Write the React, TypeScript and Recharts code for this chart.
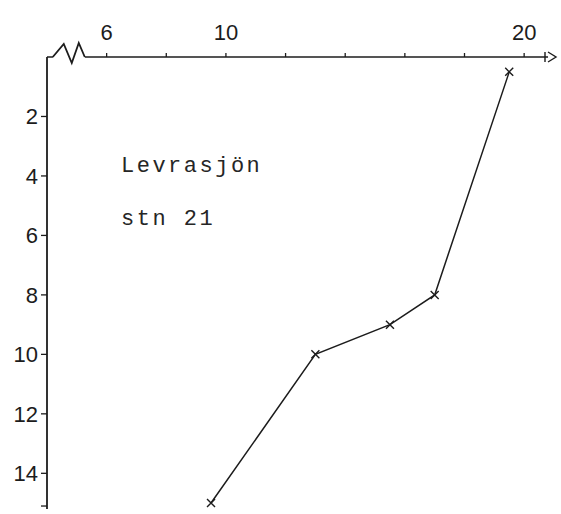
import { LineChart, Line, XAxis, YAxis, ReferenceLine, ReferenceDot } from 'recharts';

// temperature (°C) against depth (m)
const depths = [0.5, 8, 9, 10, 15];
const temps = [19.5, 17.0, 15.5, 13.0, 9.5];

const xTicks = [6, 8, 10, 12, 14, 16, 18, 20];
const xTickLabels = ['6', '', '10', '', '', '', '', '20'];
const yTicks = [2, 4, 6, 8, 10, 12, 14, 15.1];
const yTickLabels = ['2', '4', '6', '8', '10', '12', '14', ''];

const xDomain = [4, 20.8];
const yDomain = [0, 15.2];

const title = 'Levrasjön';
const station = 'stn 21';

const data = depths.map((d, i) => ({ depth: d, temp: temps[i] }));

const INK = '#1c1c1c';
const tickFont = { fontSize: 22, fill: INK, fontFamily: 'Liberation Sans' };

const Cross = (props: any) => {
  const { cx, cy } = props;
  if (cx == null || cy == null) return null;
  return (
    <path
      d={`M${cx - 4},${cy - 4}L${cx + 4},${cy + 4}M${cx + 4},${cy - 4}L${cx - 4},${cy + 4}`}
      stroke={INK}
      strokeWidth={1.4}
      fill="none"
    />
  );
};

// axis break zigzag
const Break = (props: any) => {
  const { cx, cy } = props;
  return (
    <path
      d={`M${cx - 16},${cy}L${cx - 5},${cy - 13}L${cx + 3},${cy + 6}L${cx + 10},${cy - 14}L${cx + 16},${cy}`}
      stroke={INK}
      strokeWidth={1.8}
      fill="none"
    />
  );
};

const Arrow = (props: any) => {
  const { cx, cy } = props;
  return (
    <path
      d={`M${cx},${cy - 5}L${cx + 8},${cy}L${cx},${cy + 5}M${cx - 3},${cy - 5}L${cx - 3},${cy + 5}`}
      stroke={INK}
      strokeWidth={1.4}
      fill="none"
    />
  );
};

const textStyle = {
  position: 'absolute' as const,
  left: 121,
  fontFamily: 'Liberation Mono',
  fontSize: 22,
  lineHeight: '22px',
  letterSpacing: 2.5,
  color: '#262626',
  whiteSpace: 'nowrap' as const,
};

export default function App() {
  return (
    <div style={{ position: 'absolute', left: 0, top: 0, width: 561, height: 514, background: '#fff' }}>
      <LineChart
        width={561}
        height={514}
        data={data}
        margin={{ top: 17, right: 13, bottom: 5, left: 7 }}
      >
        <XAxis
          type="number"
          dataKey="temp"
          orientation="top"
          domain={xDomain}
          ticks={xTicks}
          allowDataOverflow
          height={40}
          axisLine={false}
          tickLine={{ stroke: INK, strokeWidth: 1.3 }}
          tickSize={4}
          tickMargin={13}
          tick={tickFont}
          tickFormatter={(v: number) => xTickLabels[xTicks.indexOf(v)] ?? ''}
        />
        <YAxis
          type="number"
          dataKey="depth"
          reversed
          domain={yDomain}
          ticks={yTicks}
          allowDataOverflow
          width={40}
          axisLine={{ stroke: INK, strokeWidth: 1.8 }}
          tickLine={{ stroke: INK, strokeWidth: 1.3 }}
          tickSize={6}
          tickMargin={3}
          tick={tickFont}
          tickFormatter={(v: number) => yTickLabels[yTicks.indexOf(v)] ?? ''}
        />
        <ReferenceLine
          segment={[{ x: 4, y: 0 }, { x: 4.2, y: 0 }]}
          stroke={INK}
          strokeWidth={1.5}
          ifOverflow="visible"
        />
        <ReferenceLine
          segment={[{ x: 5.27, y: 0 }, { x: 20.8, y: 0 }]}
          stroke={INK}
          strokeWidth={1.5}
          ifOverflow="visible"
        />
        <ReferenceDot x={4.73} y={0} shape={Break} ifOverflow="visible" />
        <ReferenceDot x={20.8} y={0} shape={Arrow} ifOverflow="visible" />
        <Line
          type="linear"
          dataKey="depth"
          stroke={INK}
          strokeWidth={1.5}
          dot={<Cross />}
          activeDot={false}
          isAnimationActive={false}
        />
      </LineChart>
      <div style={{ ...textStyle, top: 156 }}>{title}</div>
      <div style={{ ...textStyle, top: 209 }}>{station}</div>
    </div>
  );
}
